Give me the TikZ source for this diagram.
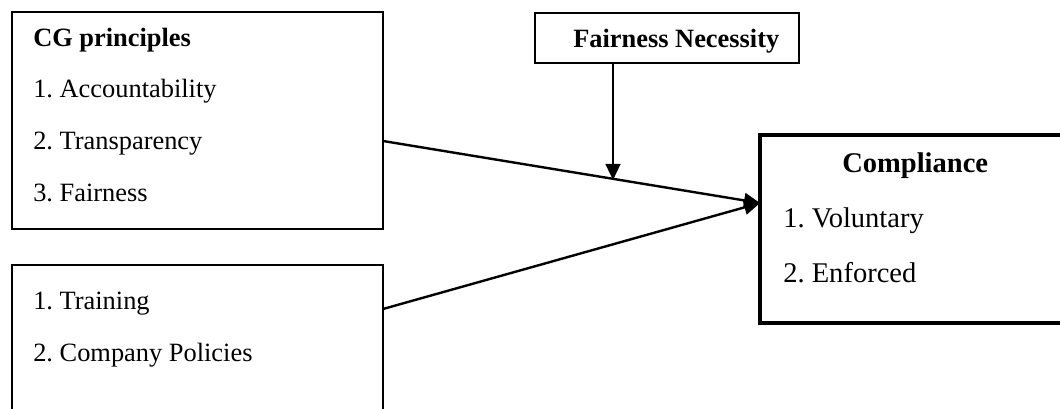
\documentclass[tikz,border=0pt]{standalone}
\usepackage{fontspec}
\setmainfont{Liberation Serif}
\usetikzlibrary{fit,arrows.meta}
\frenchspacing
\begin{document}
\begin{tikzpicture}[x=0.75pt,y=-0.75pt,
  box/.style={draw,line width=1.6pt,inner sep=0pt,rectangle},
  thickbox/.style={draw,line width=3pt,inner sep=0pt,rectangle},
  txt/.style={anchor=base west,inner sep=0pt,font=\fontsize{19.8}{24}\selectfont},
  btxt/.style={txt,font=\fontsize{19.8}{24}\selectfont\bfseries},
  ctxt/.style={txt,font=\fontsize{21.4}{26}\selectfont},
  cbtxt/.style={txt,font=\fontsize{21.4}{26}\selectfont\bfseries},
  arr/.style={line width=1.8pt,-{Triangle[length=12pt,width=11pt]}}]
\useasboundingbox (0,0) rectangle (1060,409);
% boxes
\node[box,fit={(12,12) (383,229)}] (cg) {};
\node[box,fit={(12,265) (383,440)}] (tr) {};
\node[box,fit={(535,13) (799,63)}] (fn) {};
\node[thickbox,fit={(760,135) (1080,323)}] (comp) {};
% texts
\node[btxt] (t1) at (33,47) {CG principles};
\node[txt] (t2) at (33,98) {1. Accountability};
\node[txt] (t3) at (33,150) {2. Transparency};
\node[txt] (t4) at (33,202) {3. Fairness};
\node[txt] (t5) at (33,310) {1. Training};
\node[txt] (t6) at (33,362) {2. Company Policies};
\node[btxt] (t7) at (573,48) {Fairness Necessity};
\node[cbtxt] (t8) at (842,173) {Compliance};
\node[ctxt] (t9) at (783,228) {1. Voluntary};
\node[ctxt] (t10) at (783,283) {2. Enforced};
% connector end points
\coordinate (s1) at (383,141);
\coordinate (s2) at (383,309);
\coordinate (e) at (760,203);
\coordinate (f1) at (613,63);
\coordinate (f2) at (613,180);
\draw[arr] (s1) -- (e);
\draw[arr] (s2) -- (e);
\draw[arr] (f1) -- (f2);
\end{tikzpicture}
\end{document}
